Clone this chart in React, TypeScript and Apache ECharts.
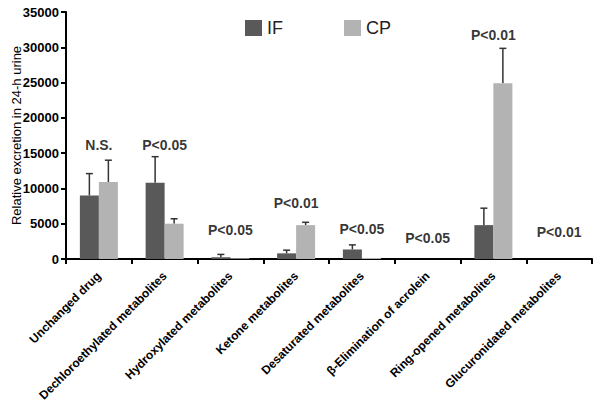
import React, { useEffect, useRef } from "react";
import * as echarts from "echarts";

const categories = [
  "Unchanged drug",
  "Dechloroethylated metabolites",
  "Hydroxylated metabolites",
  "Ketone metabolites",
  "Desaturated metabolites",
  "β-Elimination of acrolein",
  "Ring-opened metabolites",
  "Glucuronidated metabolites",
];
const ifMean = [9000, 10800, 250, 800, 1350, 0, 4800, 0];
const ifErr = [3100, 3700, 400, 450, 650, 0, 2400, 0];
const cpMean = [10900, 5000, 100, 4800, 150, 0, 24900, 0];
const cpErr = [3100, 700, 0, 400, 0, 0, 4950, 0];
const pLabels = ["N.S.", "P<0.05", "P<0.05", "P<0.01", "P<0.05", "P<0.05", "P<0.01", "P<0.01"];
const pLabelY = [16150, 16150, 4110, 7950, 4250, 2980, 31700, 3830];
const yTicks = { min: 0, max: 35000, interval: 5000 };

const IF_COLOR = "#595959";
const CP_COLOR = "#b3b3b3";
const BAR_W = 19;

function errorSeries(name: string, mean: number[], err: number[], side: number) {
  return {
    type: "custom",
    name: name + "-err",
    z: 1,
    data: mean.map((m, i) => [i, m, m + err[i], err[i]]),
    renderItem: (params: any, api: any) => {
      const i = api.value(0);
      const m = api.value(1);
      const top = api.value(2);
      const e = api.value(3);
      if (!(e > 0)) return { type: "group", children: [] };
      const p0 = api.coord([i, m]);
      const p1 = api.coord([i, top]);
      const x = p0[0] + (side * BAR_W) / 2;
      const style = { stroke: "#333333", lineWidth: 1.5 };
      return {
        type: "group",
        children: [
          { type: "line", shape: { x1: x, y1: p0[1], x2: x, y2: p1[1] }, style },
          { type: "line", shape: { x1: x - 3.5, y1: p1[1], x2: x + 3.5, y2: p1[1] }, style },
        ],
      };
    },
  };
}

export default function App() {
  const ref = useRef<HTMLDivElement>(null);
  useEffect(() => {
    if (!ref.current) return;
    const chart = echarts.init(ref.current, null, { renderer: "svg" });
    chart.setOption({
      animation: false,
      backgroundColor: "#ffffff",
      grid: { left: 66, right: 8, top: 12, bottom: 153, containLabel: false, outerBoundsMode: "none" },
      legend: {
        data: ["IF", "CP"],
        left: 240,
        top: 14,
        itemWidth: 17,
        itemHeight: 16,
        itemGap: 61,
        icon: "rect",
        textStyle: { fontFamily: "Liberation Sans", fontSize: 18, color: "#222" },
      },
      xAxis: {
        type: "category",
        data: categories,
        boundaryGap: true,
        axisLine: { lineStyle: { color: "#000", width: 2 } },
        axisTick: { show: true, length: 5, lineStyle: { color: "#000", width: 2 }, alignWithLabel: false },
        axisLabel: {
          rotate: 45,
          interval: 0,
          margin: 15,
          fontFamily: "Liberation Sans",
          fontWeight: "bold",
          fontSize: 12,
          color: "#000",
        },
      },
      yAxis: {
        type: "value",
        min: yTicks.min,
        max: yTicks.max,
        interval: yTicks.interval,
        name: "Relative excretion in 24-h urine",
        nameLocation: "middle",
        nameGap: 43,
        nameMoveOverlap: false,
        nameTextStyle: { fontFamily: "Liberation Sans", fontSize: 13, color: "#000" },
        splitLine: { show: false },
        axisLine: { show: true, lineStyle: { color: "#000", width: 2 } },
        axisTick: { show: true, length: 5, lineStyle: { color: "#000", width: 2 } },
        axisLabel: {
          margin: 7,
          formatter: (v: number) => String(v),
          fontFamily: "Liberation Sans",
          fontWeight: "bold",
          fontSize: 13,
          color: "#000",
        },
      },
      series: [
        {
          name: "IF",
          type: "bar",
          data: ifMean,
          barWidth: BAR_W,
          barGap: "0%",
          itemStyle: { color: IF_COLOR },
          z: 2,
        },
        {
          name: "CP",
          type: "bar",
          data: cpMean,
          barWidth: BAR_W,
          barGap: "0%",
          itemStyle: { color: CP_COLOR },
          z: 2,
        },
        errorSeries("IF", ifMean, ifErr, -1),
        errorSeries("CP", cpMean, cpErr, 1),
        {
          type: "scatter",
          name: "sig",
          data: pLabelY.map((y, i) => [i, y]),
          symbolSize: 0,
          itemStyle: { color: "#000" },
          label: {
            show: true,
            position: "inside",
            formatter: (p: any) => pLabels[p.dataIndex],
            fontFamily: "Liberation Sans",
            fontWeight: "bold",
            fontSize: 14,
            color: "#000",
          },
        },
      ],
    });
    return () => chart.dispose();
  }, []);
  return (
    <div
      ref={ref}
      style={{ position: "fixed", left: 0, top: 0, width: 600, height: 412, background: "#fff" }}
    />
  );
}
